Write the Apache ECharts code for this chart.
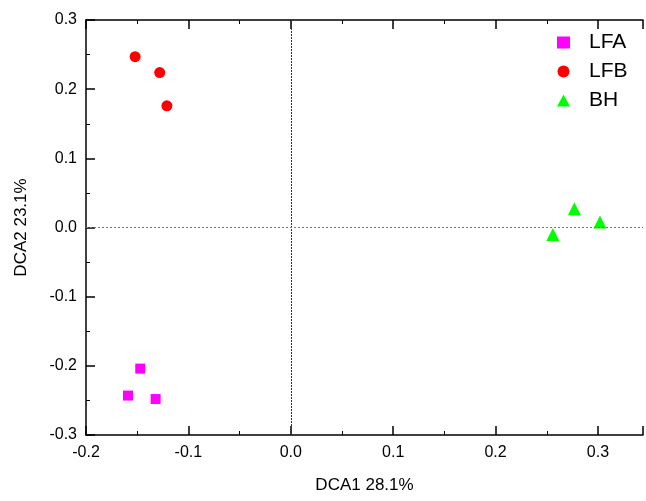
<!DOCTYPE html>
<html>
<head>
<meta charset="utf-8">
<script src="https://cdn.jsdelivr.net/npm/echarts@6/dist/echarts.min.js"></script>
<style>
  html, body { margin: 0; padding: 0; background: #fff; }
  #grafico { width: 646px; height: 501px; }
</style>
</head>
<body>
<div id="grafico"></div>
<script>
// Datos (DCA1, DCA2)
const grupos = ['LFA', 'LFB', 'BH'];
const puntosLFA = [[-0.147, -0.204], [-0.159, -0.243], [-0.132, -0.248]];
const puntosLFB = [[-0.152, 0.247], [-0.128, 0.224], [-0.121, 0.176]];
const puntosBH = [[0.277, 0.027], [0.302, 0.008], [0.256, -0.010]];
const ticksX = [-0.2, -0.1, 0.0, 0.1, 0.2, 0.3];
const ticksY = [-0.3, -0.2, -0.1, 0.0, 0.1, 0.2, 0.3];

const fuente = 'Liberation Sans, Arial, sans-serif';
const chart = echarts.init(document.getElementById('grafico'));

const ejeBase = {
    type: 'value',
    interval: 0.1,
    axisLine: { show: true, onZero: false, lineStyle: { color: '#000', width: 1.5 } },
    axisTick: { show: true, inside: true, length: 9, lineStyle: { color: '#000', width: 1.5 } },
    minorTick: { show: true, splitNumber: 2, length: 4, lineStyle: { color: '#000' } },
    splitLine: { show: false },
    nameTextStyle: { fontFamily: fuente, fontSize: 17, color: '#000' },
    axisLabel: { fontFamily: fuente, fontSize: 16, color: '#000' }
};

chart.setOption({
    animation: false,
    grid: { left: 86, right: 0, top: 20, bottom: 66 },
    legend: {
        data: grupos,
        orient: 'vertical',
        left: 552,
        top: 27,
        itemGap: 8,
        itemWidth: 13,
        itemHeight: 12,
        textStyle: { fontFamily: fuente, fontSize: 21, color: '#000', padding: [0, 0, 0, 14] }
    },
    xAxis: [
        Object.assign({}, ejeBase, {
            min: -0.2, max: 0.344,
            name: 'DCA1 28.1%',
            nameLocation: 'middle',
            nameGap: 42,
            axisLabel: Object.assign({}, ejeBase.axisLabel, {
                margin: 10,
                formatter: v => ticksX.some(t => Math.abs(t - v) < 1e-9) ? v.toFixed(1) : ''
            })
        }),
        Object.assign({}, ejeBase, {
            min: -0.2, max: 0.344,
            position: 'top',
            axisLabel: { show: false }
        })
    ],
    yAxis: {
        ...ejeBase,
        min: -0.3, max: 0.3,
        name: 'DCA2 23.1%',
        nameLocation: 'middle',
        nameGap: 56,
        axisLabel: Object.assign({}, ejeBase.axisLabel, {
            margin: 9,
            formatter: v => ticksY.some(t => Math.abs(t - v) < 1e-9) ? v.toFixed(1) : ''
        })
    },
    series: [
        {
            name: 'LFA', type: 'scatter', symbol: 'rect', symbolSize: 10,
            itemStyle: { color: '#ff00ff', opacity: 1 }, data: puntosLFA,
            markLine: {
                silent: true, symbol: 'none', label: { show: false },
                data: [
                    { xAxis: 0, lineStyle: { color: '#333', type: [2, 1], width: 1 } },
                    { yAxis: 0, lineStyle: { color: '#777', type: [2, 2], width: 1.2 } }
                ]
            }
        },
        {
            name: 'LFB', type: 'scatter', symbol: 'circle', symbolSize: 11,
            itemStyle: { color: '#ff0000', opacity: 1 }, data: puntosLFB
        },
        {
            name: 'BH', type: 'scatter', symbol: 'triangle', symbolSize: 13,
            itemStyle: { color: '#00ff00', opacity: 1 }, data: puntosBH
        }
    ]
});
</script>
</body>
</html>
